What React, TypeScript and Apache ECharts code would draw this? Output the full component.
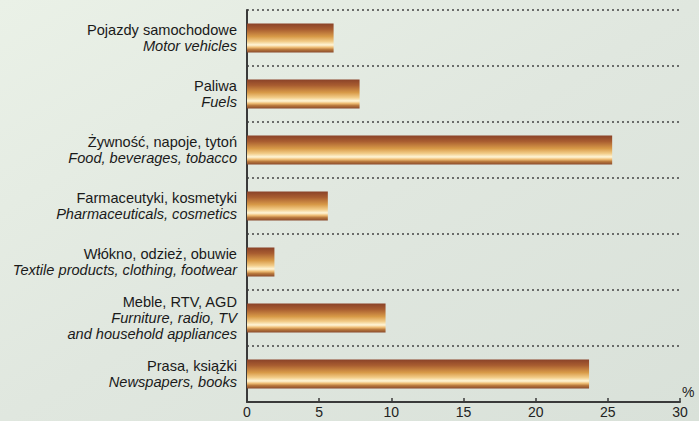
import React, { useEffect, useRef } from "react";
import * as echarts from "echarts";

const categoriesPl = [
  "Pojazdy samochodowe",
  "Paliwa",
  "Żywność, napoje, tytoń",
  "Farmaceutyki, kosmetyki",
  "Włókno, odzież, obuwie",
  "Meble, RTV, AGD",
  "Prasa, książki",
];
const categoriesEn = [
  "Motor vehicles",
  "Fuels",
  "Food, beverages, tobacco",
  "Pharmaceuticals, cosmetics",
  "Textile products, clothing, footwear",
  "Furniture, radio, TV\nand household appliances",
  "Newspapers, books",
];
const values = [6.0, 7.8, 25.3, 5.6, 1.9, 9.6, 23.7];
const xTicks = { min: 0, max: 30, interval: 5 };

export default function App() {
  const ref = useRef<HTMLDivElement>(null);
  useEffect(() => {
    if (!ref.current) return;
    const chart = echarts.init(ref.current, null, { renderer: "svg" });
    const font = "'Liberation Sans', Arial, sans-serif";
    chart.setOption({
      animation: false,
      backgroundColor: new echarts.graphic.LinearGradient(0, 0, 1, 1, [
        { offset: 0, color: "#eaf1e7" },
        { offset: 0.5, color: "#e0e7df" },
        { offset: 1, color: "#d9e1d9" },
      ]),
      grid: { left: 247, right: 19, top: 10, bottom: 19, containLabel: false },
      xAxis: {
        type: "value",
        min: xTicks.min,
        max: xTicks.max,
        interval: xTicks.interval,
        name: "%",
        nameLocation: "end",
        nameGap: 2,
        nameTextStyle: {
          color: "#222",
          fontFamily: font,
          fontSize: 14,
          verticalAlign: "bottom",
          padding: [0, 0, 3, 0],
        },
        axisLine: { show: true, lineStyle: { color: "#3a3a3a", width: 2 } },
        axisTick: { show: true, inside: true, length: 4, lineStyle: { color: "#3a3a3a", width: 1.5 } },
        axisLabel: { color: "#222", fontFamily: font, fontSize: 14, margin: 3 },
        splitLine: { show: false },
      },
      yAxis: {
        type: "category",
        inverse: true,
        data: categoriesPl,
        axisLine: { show: true, lineStyle: { color: "#3a3a3a", width: 2 } },
        axisTick: { show: false },
        splitLine: {
          show: true,
          lineStyle: { color: "#444", type: [2, 3], width: 1.5 },
        },
        axisLabel: {
          margin: 10,
          align: "right",
          lineHeight: 16,
          formatter: (v: string, i: number) => {
            const en = categoriesEn[i].split("\n").map((s) => `{b|${s}}`).join("\n");
            return `{a|${v}}\n${en}`;
          },
          rich: {
            a: { fontFamily: font, fontSize: 14.6, color: "#1a1a1a", lineHeight: 16, align: "right" },
            b: { fontFamily: font, fontSize: 14.6, fontStyle: "italic", color: "#1a1a1a", lineHeight: 16, align: "right" },
          },
        },
      },
      series: [
        {
          type: "bar",
          data: values,
          barWidth: 29,
          itemStyle: {
            color: new echarts.graphic.LinearGradient(0, 0, 0, 1, [
              { offset: 0, color: "#8a4228" },
              { offset: 0.2, color: "#a85c30" },
              { offset: 0.45, color: "#d89a48" },
              { offset: 0.62, color: "#f2cc88" },
              { offset: 0.74, color: "#fff6d8" },
              { offset: 0.82, color: "#f0c078" },
              { offset: 0.9, color: "#b8783c" },
              { offset: 1, color: "#8a4a2c" },
            ]),
          },
        },
      ],
    });
    return () => chart.dispose();
  }, []);
  return <div ref={ref} style={{ width: 699, height: 421, position: "absolute", left: 0, top: 0 }} />;
}
